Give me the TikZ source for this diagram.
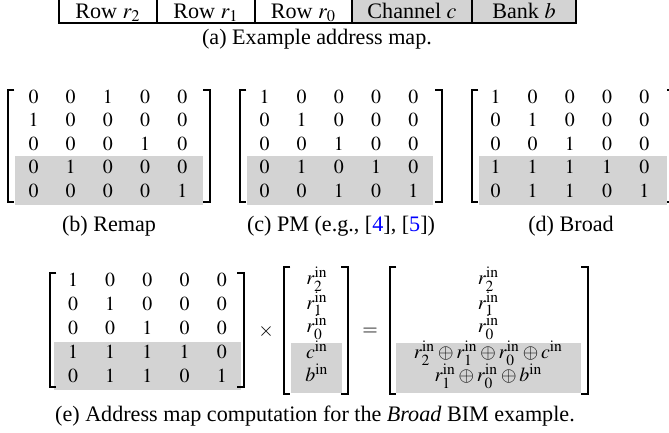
\documentclass[tikz,border=0pt]{standalone}
\usepackage{mathptmx}
\usepackage{fontspec}
\setmainfont{Liberation Serif}
\definecolor{bandgray}{RGB}{211,211,211}

\begin{document}
\begin{tikzpicture}[x=0.452pt,y=0.452pt,yscale=-1,xscale=1,
  cell/.style={anchor=base,inner sep=0.75pt},
  entry/.style={anchor=base,inner sep=0.75pt,font=\small},
  captext/.style={anchor=base,inner sep=0.75pt},
  brk/.style={line width=0.5pt}]
\useasboundingbox (0,0) rectangle (669,433);

%Address map fields
\fill[bandgray] (352,-3) rectangle (576,23);
\draw[brk] (59,-3) rectangle (576,23);
\foreach \x in {157,255,352,472} \draw[brk] (\x,-3) -- (\x,23);
% Text Node
\node[cell] (rowtwo) at (108,18.5) {Row $r_2$};
\node[cell] (rowone) at (206,18.5) {Row $r_1$};
\node[cell] (rowzero) at (303.5,18.5) {Row $r_0$};
\node[cell] (chan) at (412,18.5) {Channel $c$};
\node[cell] (bank) at (524,18.5) {Bank $b$};
\node[captext] (capa) at (317,45) {(a) Example address map.};

%Shaded rows
\fill[bandgray] (15,156) rectangle (203,205);
\fill[bandgray] (247,156) rectangle (433,205);
\fill[bandgray] (479,156) rectangle (667,205);

%Brackets (b), (c), (d)
\foreach \dx in {0,232,464} {
  \draw[brk] (14.5+\dx,90) -- (8+\dx,90) -- (8+\dx,202) -- (14.5+\dx,202);
  \draw[brk] (203.5+\dx,90) -- (210+\dx,90) -- (210+\dx,202) -- (203.5+\dx,202);
}

%Remap
\foreach \r [count=\i] in {{0,0,1,0,0},{1,0,0,0,0},{0,0,0,1,0},{0,1,0,0,0},{0,0,0,0,1}}
  \foreach \v [count=\j] in \r
    \node[entry] (b-\i-\j) at ({33.5+37.2*(\j-1)},{103.3+23.5*(\i-1)}) {$\v$};
%PM
\foreach \r [count=\i] in {{1,0,0,0,0},{0,1,0,0,0},{0,0,1,0,0},{0,1,0,1,0},{0,0,1,0,1}}
  \foreach \v [count=\j] in \r
    \node[entry] (c-\i-\j) at ({264.5+37.2*(\j-1)},{103.3+23.5*(\i-1)}) {$\v$};
%Broad
\foreach \r [count=\i] in {{1,0,0,0,0},{0,1,0,0,0},{0,0,1,0,0},{1,1,1,1,0},{0,1,1,0,1}}
  \foreach \v [count=\j] in \r
    \node[entry] (d-\i-\j) at ({495.5+37.2*(\j-1)},{103.3+23.5*(\i-1)}) {$\v$};

% Text Node
\node[captext] (capb) at (109,232) {(b) Remap};
\node[captext] (capc) at (341,232) {(c) PM (e.g., [\textcolor{blue}{4}], [\textcolor{blue}{5}])};
\node[captext] (capd) at (571,232) {(d) Broad};

%Computation (e)
\fill[bandgray] (54,342) rectangle (241,390);
\fill[bandgray] (291,343) rectangle (342,393);
\fill[bandgray] (396,343) rectangle (581,393);
\draw[brk] (56.5,273) -- (50,273) -- (50,387) -- (56.5,387);
\draw[brk] (237.5,273) -- (244,273) -- (244,387) -- (237.5,387);
\draw[brk] (290.5,267) -- (284,267) -- (284,394) -- (290.5,394);
\draw[brk] (341.5,267) -- (348,267) -- (348,394) -- (341.5,394);
\draw[brk] (396.5,267) -- (390,267) -- (390,394) -- (396.5,394);
\draw[brk] (581.5,267) -- (588,267) -- (588,394) -- (581.5,394);

\foreach \r [count=\i] in {{1,0,0,0,0},{0,1,0,0,0},{0,0,1,0,0},{1,1,1,1,0},{0,1,1,0,1}}
  \foreach \v [count=\j] in \r
    \node[entry] (e-\i-\j) at ({73+37.2*(\j-1)},{286.7+24*(\i-1)}) {$\v$};

\node[entry] (times) at (266,336.5) {$\times$};
\node[entry] (v-1) at (317,285) {$r_2^{\mathrm{in}}$};
\node[entry] (v-2) at (317,309.5) {$r_1^{\mathrm{in}}$};
\node[entry] (v-3) at (317,333) {$r_0^{\mathrm{in}}$};
\node[entry] (v-4) at (317,359) {$c^{\mathrm{in}}$};
\node[entry] (v-5) at (317,382) {$b^{\mathrm{in}}$};

\node[entry] (eq) at (370,335.5) {$=$};
\node[entry] (o-1) at (488.5,285) {$r_2^{\mathrm{in}}$};
\node[entry] (o-2) at (488.5,309.5) {$r_1^{\mathrm{in}}$};
\node[entry] (o-3) at (488.5,333) {$r_0^{\mathrm{in}}$};
\node[entry] (o-4) at (488.5,359) {$r_2^{\mathrm{in}}\oplus r_1^{\mathrm{in}}\oplus r_0^{\mathrm{in}}\oplus c^{\mathrm{in}}$};
\node[entry] (o-5) at (488.5,382) {$r_1^{\mathrm{in}}\oplus r_0^{\mathrm{in}}\oplus b^{\mathrm{in}}$};

\node[captext] (cape) at (315,422) {(e) Address map computation for the \emph{Broad} BIM example.};

\end{tikzpicture}
\end{document}
